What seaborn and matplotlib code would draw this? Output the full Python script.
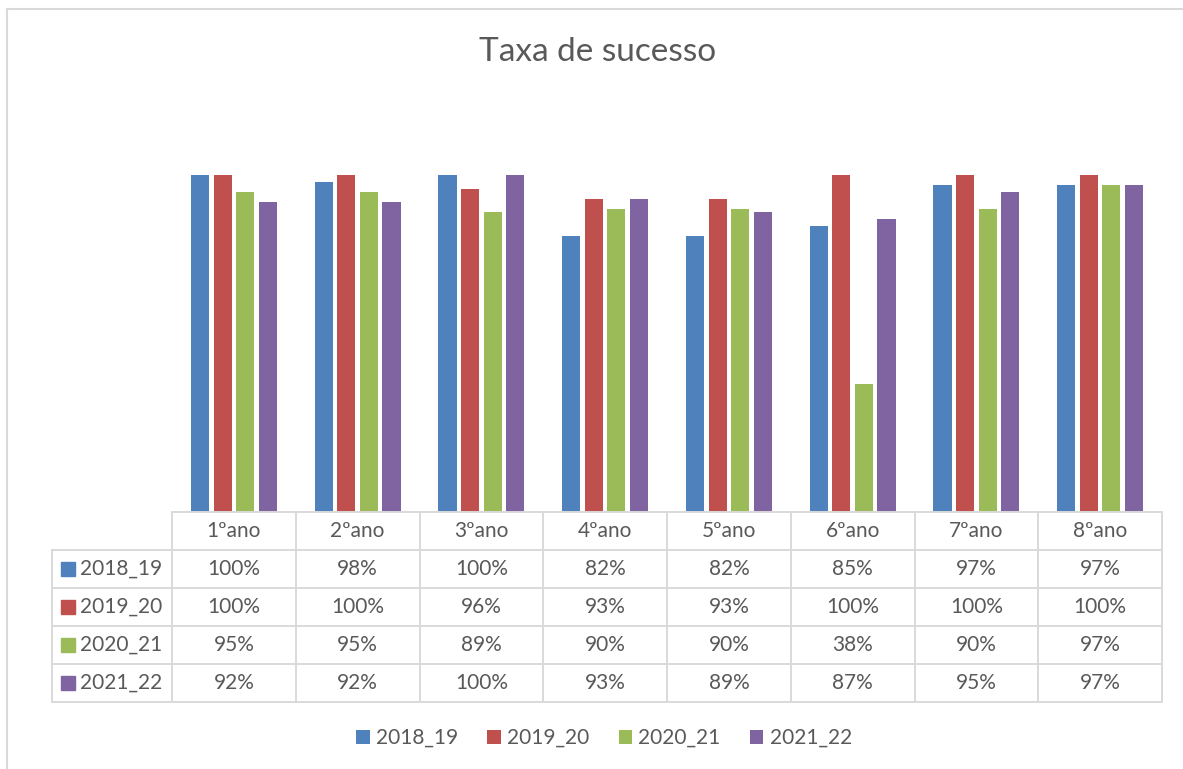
import matplotlib
matplotlib.use("Agg")
import matplotlib.pyplot as plt
from matplotlib.patches import Rectangle
from matplotlib.lines import Line2D
import seaborn as sns
import pandas as pd

# data
anos = ["1ºano", "2ºano", "3ºano", "4ºano", "5ºano", "6ºano", "7ºano", "8ºano"]
series = ["2018_19", "2019_20", "2020_21", "2021_22"]
v_2018_19 = [1.00, 0.98, 1.00, 0.82, 0.82, 0.85, 0.97, 0.97]
v_2019_20 = [1.00, 1.00, 0.96, 0.93, 0.93, 1.00, 1.00, 1.00]
v_2020_21 = [0.95, 0.95, 0.89, 0.90, 0.90, 0.38, 0.90, 0.97]
v_2021_22 = [0.92, 0.92, 1.00, 0.93, 0.89, 0.87, 0.95, 0.97]
colors = ["#4F81BD", "#C0504D", "#9BBB59", "#8064A2"]

values = [v_2018_19, v_2019_20, v_2020_21, v_2021_22]
df = pd.DataFrame([
    {"ano": a, "serie": s, "taxa": v}
    for s, vals in zip(series, values)
    for a, v in zip(anos, vals)
])

sns.set_style("white")
plt.rcParams["font.family"] = ["Lato", "DejaVu Sans"]
text_color = "#595959"
grid_color = "#D9D9D9"
fs = 15

W, H = 1183, 769
fig = plt.figure(figsize=(W / 100, H / 100), dpi=100)

def px_axes(x0, y0, x1, y1):
    # pixel box (top-left origin) -> figure axes
    return fig.add_axes([x0 / W, 1 - y1 / H, (x1 - x0) / W, (y1 - y0) / H])

# bars
ax = px_axes(172, 108, 1162, 512)
sns.barplot(data=df, x="ano", y="taxa", hue="serie", palette=colors,
            width=0.73, gap=0.2, saturation=1, ax=ax, edgecolor="none")
handles, labels = ax.get_legend_handles_labels()
ax.get_legend().remove()
ax.set_xlim(-0.5, len(anos) - 0.5)
ax.set_ylim(0, 1.2)
ax.axis("off")

fig.text(598 / W, 1 - 52 / H, "Taxa de sucesso", ha="center", va="center",
         fontsize=24, color=text_color)

# data table below the bars
tab = px_axes(172, 512, 1162, 702)
tab.set_xlim(-0.5, len(anos) - 0.5)
tab.set_ylim(len(series) + 1, 0)
tab.axis("off")
col_px = (1162 - 172) / len(anos)
left = -0.5 - (172 - 52) / col_px
lw = 1.4
# horizontal lines
tab.plot([-0.5, len(anos) - 0.5], [0, 0], color=grid_color, lw=lw, clip_on=False)
for r in range(1, len(series) + 2):
    tab.plot([left, len(anos) - 0.5], [r, r], color=grid_color, lw=lw, clip_on=False)
# vertical lines
tab.plot([left, left], [1, len(series) + 1], color=grid_color, lw=lw, clip_on=False)
for c in range(len(anos) + 1):
    tab.plot([c - 0.5, c - 0.5], [0, len(series) + 1], color=grid_color, lw=lw, clip_on=False)

for i, a in enumerate(anos):
    tab.text(i, 0.5, a, ha="center", va="center", fontsize=fs, color=text_color)
for r, (s, vals, col) in enumerate(zip(series, values, colors), start=1):
    tab.add_patch(Rectangle((left + 9 / col_px, r + 0.5 - 7 / 38), 14 / col_px, 14 / 38,
                            color=col, clip_on=False))
    tab.text(left + 28 / col_px, r + 0.5, s, ha="left", va="center",
             fontsize=fs, color=text_color)
    for i, v in enumerate(vals):
        tab.text(i, r + 0.5, f"{v:.0%}", ha="center", va="center",
                 fontsize=fs, color=text_color)

fig.legend(handles, labels, loc="center", bbox_to_anchor=(604 / W, 1 - 738 / H),
           ncol=4, frameon=False, fontsize=fs, labelcolor=text_color,
           handlelength=0.65, handleheight=0.65, handletextpad=0.3, columnspacing=1.4)

# chart border (left and top visible)
fig.add_artist(Line2D([7 / W, 7 / W], [0, 1 - 9 / H], color=grid_color, lw=1.5))
fig.add_artist(Line2D([7 / W, 1], [1 - 9 / H, 1 - 9 / H], color=grid_color, lw=1.5))

fig.savefig("out.png", dpi=100)
